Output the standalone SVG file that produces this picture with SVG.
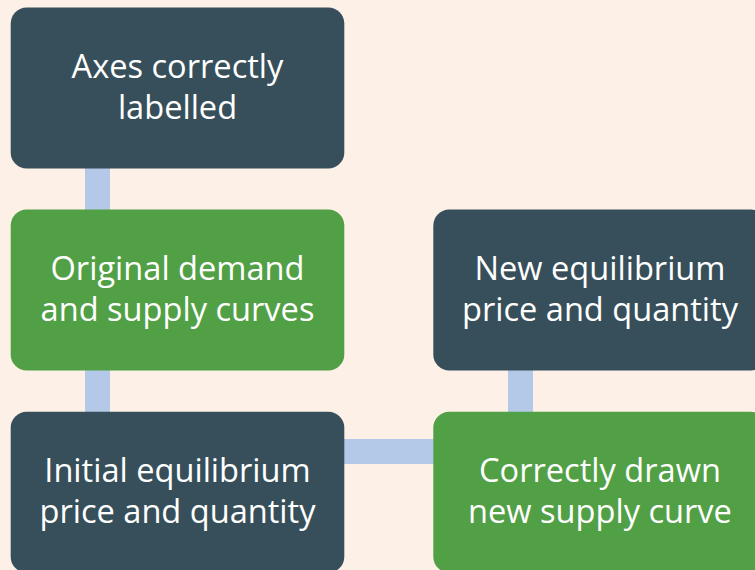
<svg xmlns="http://www.w3.org/2000/svg" width="755" height="570" viewBox="0 0 755 570">
<style>
.dark{fill:#374F5A}
.green{fill:#52A046}
.conn{fill:#B4C8E7}
text{font-family:"Open Sans","DejaVu Sans",sans-serif;font-size:32.6px;fill:#FFFFFF;text-anchor:middle}
</style>
<rect width="755" height="570" fill="#FDF0E7"/>
<g id="connectors">
<rect class="conn" x="85" y="166" width="25" height="46"/>
<rect class="conn" x="85" y="368" width="25" height="46"/>
<rect class="conn" x="342" y="439" width="93" height="25"/>
<rect class="conn" x="508" y="368" width="25" height="46"/>
</g>
<g id="node1">
<rect class="dark" x="10.7" y="7.5" width="333.6" height="161" rx="16"/>
<text x="177.5" y="78">Axes correctly</text>
<text x="177.5" y="119">labelled</text>
</g>
<g id="node2">
<rect class="green" x="10.7" y="209.5" width="333.6" height="161" rx="16"/>
<text x="177.5" y="280">Original demand</text>
<text x="177.5" y="321">and supply curves</text>
</g>
<g id="node3">
<rect class="dark" x="10.7" y="411.7" width="333.6" height="161" rx="16"/>
<text x="177.5" y="481.5">Initial equilibrium</text>
<text x="177.5" y="523">price and quantity</text>
</g>
<g id="node4">
<rect class="dark" x="433.3" y="209.5" width="333.6" height="161" rx="16"/>
<text x="600" y="280">New equilibrium</text>
<text x="600" y="321">price and quantity</text>
</g>
<g id="node5">
<rect class="green" x="433.3" y="411.7" width="333.6" height="161" rx="16"/>
<text x="600" y="481.5">Correctly drawn</text>
<text x="600" y="523">new supply curve</text>
</g>
</svg>
